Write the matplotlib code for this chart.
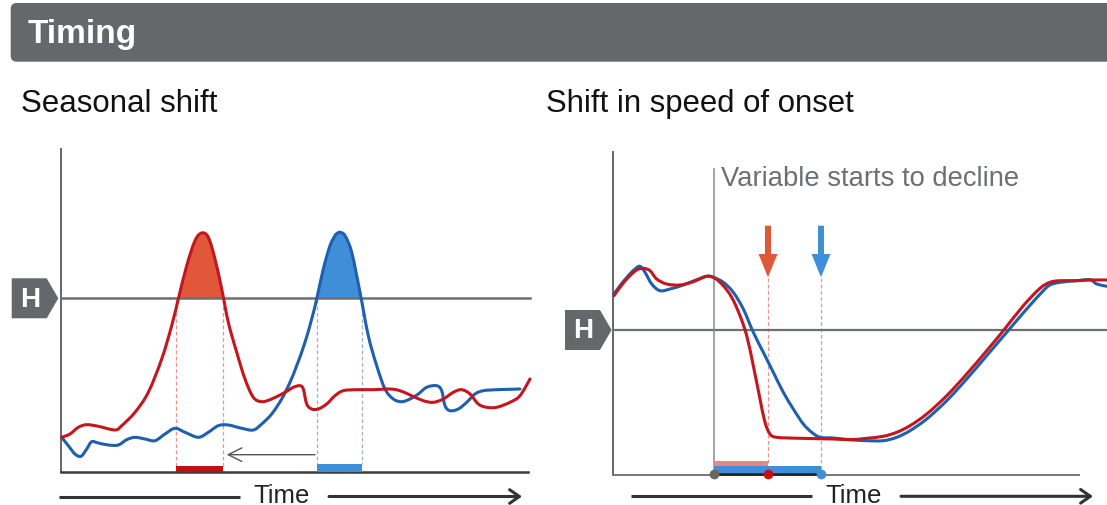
import matplotlib
matplotlib.use("Agg")
import matplotlib.pyplot as plt
from matplotlib.patches import FancyBboxPatch, Polygon, Rectangle, FancyArrow, PathPatch
from matplotlib.path import Path
import numpy as np

plt.rcParams['font.family'] = ['Liberation Sans', 'DejaVu Sans']

# ---------------- data (schematic; pixel space) -----
title_text = "Timing"
left_title = "Seasonal shift"
right_title = "Shift in speed of onset"
decline_label = "Variable starts to decline"
axis_label = "Time"
threshold_label = "H"

# Left panel: seasonal shift
left_red_x = [61.7, 70, 78.3, 86.7, 98.3, 115, 121.7, 135, 148.3, 161.7, 171.7, 178.3, 186.7, 195,
              201.7, 208.3, 215, 221.7, 228.3, 236.7, 245, 253.3, 261.7, 271.7, 285, 293.3, 300, 303.3,
              306.7, 311.7, 318.3, 326.7, 335, 343.3, 356.7, 373.3, 390, 400, 410, 423.3, 433.3, 443.3,
              453.3, 461.7, 470, 478.3, 486.7, 496.7, 510, 520, 530]
left_red_y = [438.3, 435, 428.3, 425.7, 427.3, 431, 426.7, 413.3, 393.3, 360, 326.7, 300, 266.7, 241.7,
              234, 238.3, 260, 290, 323.3, 353.3, 380, 398.3, 402.7, 400, 393.3, 388.3, 386.7, 390,
              405, 410, 410, 405, 396.7, 391.7, 390.7, 390.7, 390, 391.7, 396, 401.7, 403.3, 400,
              393.3, 390.7, 395, 405, 408.3, 408.3, 403.3, 396.7, 380]
left_blue_x = [61.7, 68.3, 75, 81, 86.7, 91.7, 98.3, 108.3, 118.3, 126.7, 135, 145, 155, 165, 175, 185,
               198.3, 208.3, 218.3, 228.3, 241.7, 253.3, 261.7, 271.7, 281.7, 290, 296.7, 305, 311.7,
               316.7, 323.3, 330, 335, 337.3, 340, 345, 351.7, 360, 368.3, 376.7, 385, 393.3, 401.7,
               410, 418.3, 426.7, 436.7, 441.7, 445, 450, 458.3, 466.7, 475, 483.3, 496.7, 510, 520]
left_blue_y = [438.3, 446.7, 455, 457.3, 450, 442.7, 444, 446, 446, 440.7, 438.3, 440, 441.7, 435, 429.3,
               433.3, 438.3, 433.3, 426.7, 426, 429.3, 431, 425, 415, 400, 383.3, 366.7, 343.3, 320,
               300, 270, 246.7, 236.7, 234.3, 233.3, 236.7, 253.3, 293.3, 336.7, 366.7, 390, 400, 402.7,
               400, 395, 388.3, 386.7, 391.7, 406.7, 411.7, 410, 403.3, 395, 391.7, 390.7, 390.3, 390]
left_H = 299.3
left_red_window = [176, 223.3]
left_blue_window = [316.7, 361.7]

# Right panel: shift in speed of onset
right_blue_x = [614, 620, 628.3, 635, 640, 645, 651.7, 660, 670, 683.3, 696.7, 706.7, 713.3, 723.3,
                733.3, 743.3, 753.3, 763.3, 773.3, 783.3, 793.3, 803.3, 811.7, 820, 833.3, 850, 866.7,
                883.3, 896.7, 910, 926.7, 946.7, 966.7, 986.7, 1006.7, 1026.7, 1043.3, 1050, 1060,
                1076.7, 1090, 1096.7, 1107]
right_blue_y = [295, 286.7, 276.7, 270, 267.3, 273.3, 285, 291.7, 290, 286, 280.7, 277.3, 278.3, 283.3,
                293.3, 310, 333.3, 353.3, 373.3, 393.3, 410, 425, 433.3, 438.3, 439, 440.7, 441.7,
                441.7, 438.3, 431.7, 420, 401.7, 380, 356.7, 333.3, 310, 291.7, 286, 283.3,
                281.7, 280.7, 285, 287.3]
right_red_x = [614, 620, 628.3, 636.7, 643.3, 650, 656.7, 666.7, 680, 693.3, 706.7, 715, 723.3, 731.7,
               740, 746.7, 753.3, 760, 765, 770, 776.7, 800, 833.3, 850, 866.7, 883.3, 896.7, 910,
               926.7, 946.7, 966.7, 986.7, 1003.3, 1023.3, 1040, 1050, 1060, 1076.7, 1090, 1107]
right_red_y = [296.7, 288.3, 278.3, 271, 269.3, 271.7, 280, 285, 286, 282.7, 277.3, 279.3, 286.7, 298.3,
               316.7, 336.7, 366.7, 400, 423.3, 435, 438.3, 439.3, 440, 440.7, 439.3, 437.3, 433.3, 426.7,
               415, 396.7, 375, 351.7, 331.7, 306.7, 289.3, 283.3, 281.7, 281.7, 281, 281]
right_H = 331
decline_start = 714
red_reach = 768
blue_reach = 821

# ---------------- colours ----------------
GREY_BAR = "#65676b"
GREY_TXT = "#6d6f72"
RED = "#c4161c"
BLUE = "#1f5fb0"
RED_FILL = "#e0573a"
BLUE_FILL = "#3f8fd8"
RED_BAR = "#c40f0f"
PINK_BAR = "#ea8585"
RED_DASH = "#f29090"
BLUE_DASH = "#9fb0cc"

W, H = 1107, 506
fig = plt.figure(figsize=(W / 100, H / 100), dpi=100)
ax = fig.add_axes([0, 0, 1, 1])
ax.set_xlim(0, W)
ax.set_ylim(H, 0)
ax.axis('off')


def smooth_path(xs, ys, close_to=None):
    """Bezier path through the read points (Catmull-Rom control points)."""
    p = np.column_stack([xs, ys]).astype(float)
    n = len(p)
    verts = [p[0]]
    codes = [Path.MOVETO]
    for i in range(n - 1):
        p0 = p[i - 1] if i > 0 else p[i]
        p3 = p[i + 2] if i + 2 < n else p[i + 1]
        c1 = p[i] + (p[i + 1] - p0) / 6.0
        c2 = p[i + 1] - (p3 - p[i]) / 6.0
        verts += [c1, c2, p[i + 1]]
        codes += [Path.CURVE4] * 3
    if close_to is not None:
        verts += [(p[-1][0], close_to), (p[0][0], close_to), p[0]]
        codes += [Path.LINETO, Path.LINETO, Path.CLOSEPOLY]
    return Path(verts, codes)


def draw_curve(xs, ys, color, z=4):
    ax.add_patch(PathPatch(smooth_path(xs, ys), fc='none', ec=color, lw=2.2, zorder=z,
                           joinstyle='round', capstyle='round'))


def fill_peak(xs, ys, level, color, x0, x1):
    patch = PathPatch(smooth_path(xs, ys, close_to=level), fc=color, ec='none', zorder=2)
    ax.add_patch(patch)
    clip = Rectangle((x0 - 2, 0), (x1 - x0) + 4, level, transform=ax.transData)
    patch.set_clip_path(clip)


# header
ax.add_patch(FancyBboxPatch((10.7, 4), 1130, 58.7, boxstyle="round,pad=0,rounding_size=6",
                            fc=GREY_BAR, ec='none'))
ax.text(27.5, 42.7, title_text, color='white', fontsize=24, fontweight='bold', va='baseline', ha='left')
ax.text(21, 111.7, left_title, color='#111111', fontsize=22.5, va='baseline', ha='left')
ax.text(546, 111.7, right_title, color='#111111', fontsize=22.4, va='baseline', ha='left')


def badge(x0, yc):
    pts = [(x0, yc - 20), (x0 + 35, yc - 20), (x0 + 46.6, yc), (x0 + 35, yc + 20), (x0, yc + 20)]
    ax.add_patch(Polygon(pts, closed=True, fc=GREY_BAR, ec='none', zorder=5))
    ax.text(x0 + 18.5, yc + 0.5, threshold_label, color='white', fontsize=20, fontweight='bold',
            ha='center', va='center', zorder=6)


def time_arrow(x0, x1, xt0, xt1, y):
    xc = (xt0 + xt1) / 2
    ax.plot([x0, xt0 - 13], [y, y], color='#333333', lw=2.2, solid_capstyle='butt')
    ax.annotate('', xy=(x1, y), xytext=(xt1 + 19, y),
                arrowprops=dict(arrowstyle='->,head_length=0.5,head_width=0.35', color='#333333',
                                lw=2.2, shrinkA=0, shrinkB=0, mutation_scale=14))
    ax.text(xc, 503, axis_label, fontsize=18.5, color='#222222', ha='center', va='baseline')


# ---------------- left panel ----------------
fill_peak(left_red_x, left_red_y, left_H, RED_FILL, *left_red_window)
fill_peak(left_blue_x, left_blue_y, left_H, BLUE_FILL, *left_blue_window)
ax.plot([61, 61], [150, 473], color='#666666', lw=1.4, zorder=3)
ax.plot([61, 528], [472.7, 472.7], color='#3a3a3a', lw=1.8, zorder=3)
ax.plot([61, 530], [left_H, left_H], color=GREY_TXT, lw=1.8, zorder=3)
for xv in left_red_window:
    ax.plot([xv, xv], [left_H + 2, 466.5], color=RED_DASH, lw=0.9, dashes=(3, 2), zorder=2)
for xv in left_blue_window:
    ax.plot([xv, xv], [left_H + 2, 464.5], color=BLUE_DASH, lw=0.9, dashes=(3, 2), zorder=2)
ax.add_patch(Rectangle((left_red_window[0], 466.5), left_red_window[1] - left_red_window[0], 6,
                       fc=RED_BAR, ec='none', zorder=4))
ax.add_patch(Rectangle((left_blue_window[0], 464.5), left_blue_window[1] - left_blue_window[0], 8,
                       fc=BLUE_FILL, ec='none', zorder=4))
ax.annotate('', xy=(226.7, 455.7), xytext=(315, 455.7),
            arrowprops=dict(arrowstyle='->,head_length=0.7,head_width=0.35', color='#555555', lw=1.0,
                            shrinkA=0, shrinkB=0, mutation_scale=14), zorder=3)
draw_curve(left_blue_x, left_blue_y, BLUE)
draw_curve(left_red_x, left_red_y, RED)
badge(11.7, left_H)
time_arrow(59, 522, 253, 310, 497.5)

# ---------------- right panel ----------------
ax.plot([612.7, 612.7], [152.7, 475.5], color='#666666', lw=1.4, zorder=3)
ax.plot([612.7, 1079], [475.5, 475.5], color='#777777', lw=1.4, zorder=3)
ax.plot([612.7, 1107], [right_H, right_H], color=GREY_TXT, lw=1.6, zorder=3)
ax.plot([decline_start, decline_start], [170, 475.5], color='#8a8a8a', lw=1.1, zorder=3)
ax.text(721, 186, decline_label, color=GREY_TXT, fontsize=19.7, ha='left', va='baseline')
ax.plot([red_reach, red_reach], [279, 475], color=RED_DASH, lw=0.9, dashes=(3, 2), zorder=2)
ax.plot([blue_reach, blue_reach], [279, 475], color=BLUE_DASH, lw=0.9, dashes=(3, 2), zorder=2)
ax.add_patch(Rectangle((decline_start, 461.7), red_reach - decline_start, 5.8, fc=PINK_BAR, ec='none', zorder=4))
ax.add_patch(Rectangle((decline_start, 467.3), blue_reach - decline_start, 7.0, fc=BLUE_FILL, ec='none', zorder=4))
ax.plot([decline_start, blue_reach], [475, 475], color='#222222', lw=2.0, zorder=5)
ax.plot([decline_start], [475], 'o', color='#666666', ms=7, mec='none', zorder=6)
ax.plot([red_reach], [475], 'o', color=RED_BAR, ms=7, mec='none', zorder=6)
ax.plot([blue_reach], [475], 'o', color=BLUE_FILL, ms=7, mec='none', zorder=6)
for xv, col in [(red_reach, RED_FILL), (blue_reach, BLUE_FILL)]:
    ax.add_patch(FancyArrow(xv, 226.7, 0, 51.6, width=6, head_width=19, head_length=23.3,
                            length_includes_head=True, fc=col, ec='none', zorder=5))
draw_curve(right_blue_x, right_blue_y, BLUE)
draw_curve(right_red_x, right_red_y, RED)
badge(565, right_H)
time_arrow(631, 1093, 825, 882, 497.3)

fig.savefig("out.png", dpi=100)
